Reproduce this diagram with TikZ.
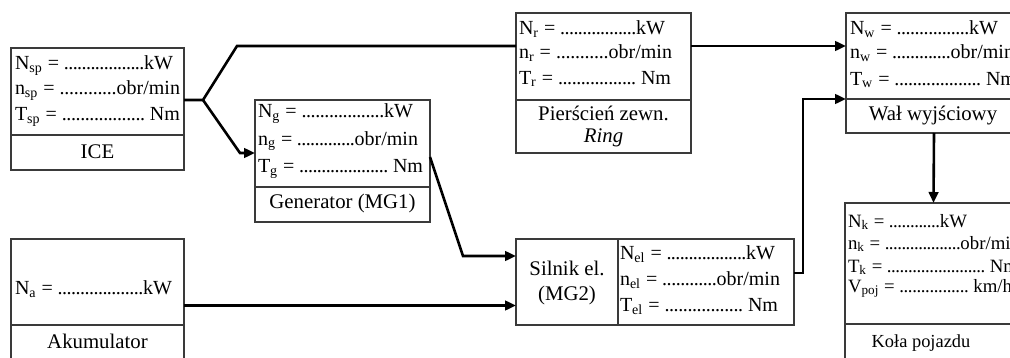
\documentclass[tikz,border=0pt]{standalone}
\usepackage{fontspec}
\setmainfont{Liberation Serif}
\usetikzlibrary{arrows.meta}
\definecolor{boxgray}{HTML}{3A3A3A}
\newcommand\rowbox[3]{\hbox to \dimexpr #1pt/2\relax{#2\ =\ \xleaders\hbox to .22em{\hss.\hss}\hfill#3}}
\tikzset{
  box/.style={draw=boxgray, line width=0.75pt, inner sep=0pt, outer sep=0pt, anchor=north west},
  divline/.style={draw=boxgray, line width=0.75pt},
  conn/.style={draw=black, line width=1.3pt, line join=miter},
  arr/.style={conn, -{Triangle[length=5.5pt,width=4.8pt]}},
  txt/.style={inner sep=0pt, outer sep=0pt, anchor=base west, font=\fontsize{10}{12}\selectfont},
  lbl/.style={inner sep=0pt, outer sep=0pt, anchor=base, font=\fontsize{10.4}{12}\selectfont},
  smalltxt/.style={txt, font=\fontsize{9.4}{11}\selectfont},
  smalllbl/.style={lbl, font=\fontsize{9.2}{11}\selectfont}
}
\begin{document}
\begin{tikzpicture}[x=0.5pt,y=-0.5pt]
\useasboundingbox (0,0) rectangle (1010,358);
\fill[white] (0,0) rectangle (1010,358);
\clip (0,0) rectangle (1010,358);

% boxes
\node[box, minimum width=86.5pt, minimum height=61pt] (ice) at (11,48) {};
\node[box, minimum width=87.5pt, minimum height=61pt] (gen) at (255,100) {};
\node[box, minimum width=87.5pt, minimum height=70pt] (ring) at (516,13) {};
\node[box, minimum width=88pt, minimum height=60pt] (wal) at (846,13) {};
\node[box, minimum width=139pt, minimum height=43pt] (sil) at (516,239) {};
\node[box, minimum width=86.5pt, minimum height=66.5pt] (aku) at (11,239) {};
\node[box, minimum width=88.5pt, minimum height=84.5pt] (kola) at (845,203) {};

% dividers
\draw[divline] (11,135) -- (184,135);
\draw[divline] (255,187) -- (430,187);
\draw[divline] (516,100) -- (691,100);
\draw[divline] (846,99) -- (1022,99);
\draw[divline] (618,239) -- (618,325);
\draw[divline] (11,325) -- (184,325);
\draw[divline] (845,324) -- (1022,324);

% ICE
\node[txt] (iceN) at (15,70) {\rowbox{158}{N\textsubscript{sp}}{kW}};
\node[txt] (icen) at (15,95) {\rowbox{165}{n\textsubscript{sp}}{obr/min}};
\node[txt] (iceT) at (15,120) {\rowbox{165}{T\textsubscript{sp}}{\ Nm}};
\node[lbl] (iceL) at (97.5,158) {ICE};

% Generator
\node[txt] (genN) at (258,118) {\rowbox{155}{N\textsubscript{g}}{kW}};
\node[txt] (genn) at (258,145) {\rowbox{160}{n\textsubscript{g}}{obr/min}};
\node[txt] (genT) at (258,172) {\rowbox{165}{T\textsubscript{g}}{\ Nm}};
\node[lbl] (genL) at (342.5,208) {Generator (MG1)};

% Ring
\node[txt] (ringN) at (519,35) {\rowbox{146}{N\textsubscript{r}}{kW}};
\node[txt] (ringn) at (519,59) {\rowbox{153}{n\textsubscript{r}}{obr/min}};
\node[txt] (ringT) at (519,84) {\rowbox{152}{T\textsubscript{r}}{\ Nm}};
\node[lbl] (ringL1) at (603.5,120) {Pierścień zewn.};
\node[lbl] (ringL2) at (603.5,142) {\itshape Ring};

% Wal
\node[txt] (walN) at (850,35) {\rowbox{148}{N\textsubscript{w}}{kW}};
\node[txt] (waln) at (850,59) {\rowbox{164}{n\textsubscript{w}}{obr/min}};
\node[txt] (walT) at (850,85) {\rowbox{166}{T\textsubscript{w}}{\ Nm}};
\node[lbl] (walL) at (933,120) {Wał wyjściowy};

% Silnik
\node[lbl] (silL1) at (567,275) {Silnik el.};
\node[lbl] (silL2) at (567,300) {(MG2)};
\node[txt] (silN) at (620,259) {\rowbox{155}{N\textsubscript{el}}{kW}};
\node[txt] (siln) at (620,285) {\rowbox{160}{n\textsubscript{el}}{obr/min}};
\node[txt] (silT) at (620,311) {\rowbox{158}{T\textsubscript{el}}{\ Nm}};

% Akumulator
\node[txt] (akuN) at (15,294) {\rowbox{157}{N\textsubscript{a}}{kW}};
\node[lbl] (akuL) at (97.5,348) {Akumulator};

% Kola
\node[smalltxt] (kolaN) at (848,227) {\rowbox{119}{N\textsubscript{k}}{kW}};
\node[smalltxt] (kolan) at (848,249) {\rowbox{172}{n\textsubscript{k}}{obr/min}};
\node[smalltxt] (kolaT) at (848,272) {\rowbox{170}{T\textsubscript{k}}{\ Nm}};
\node[smalltxt] (kolaV) at (848,292) {\rowbox{164}{V\textsubscript{poj}}{\ km/h}};
\node[smalllbl] (kolaL) at (921,347) {Koła pojazdu};

% connectors
\coordinate (fork) at (203,100);
\coordinate (up) at (237,46);
\coordinate (dn) at (240,153);
\coordinate (g2) at (463,256);
\coordinate (s1) at (803,273);
\coordinate (s2) at (803,99);
\draw[conn] (ice.east |- fork) -- (fork) -- (up) -- (ring.west |- up);
\draw[arr] (fork) -- (dn) -- (gen.west |- dn);
\draw[arr] (ring.east |- up) -- (wal.west |- up);
\draw[arr] ([yshift=2pt]gen.east) -- (g2) -- (sil.west |- g2);
\draw[arr] (aku.east) -- (aku.east -| sil.west);
\draw[arr] (sil.east |- s1) -- (s1) -- (s2) -- (wal.west |- s2);
\draw[arr] (wal.south) -- (kola.north);
\end{tikzpicture}
\end{document}
